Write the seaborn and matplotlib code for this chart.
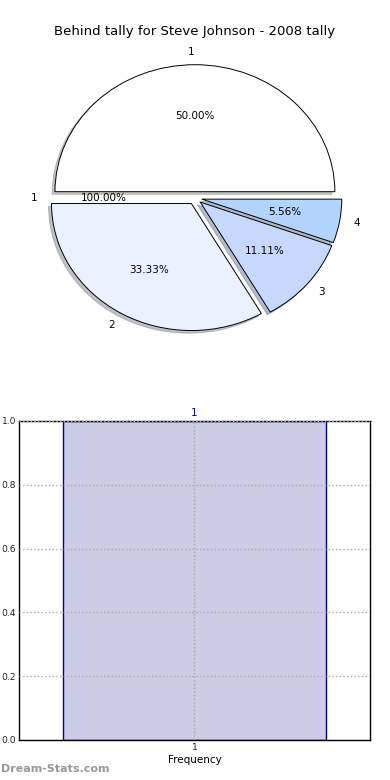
import numpy as np
import pandas as pd
import matplotlib
matplotlib.use("Agg")
import matplotlib.pyplot as plt
import seaborn as sns

# tally data
pie_labels = ["1", "2", "3", "4"]
pie_counts = [9, 6, 2, 1]
pie_colors = ["#ffffff", "#ebf1fe", "#c6d8fe", "#b3d4fe"]
phantom_label = "1"
phantom_pct = "100.00%"

bar_categories = ["1"]
bar_values = [1.0]
y_ticks = [0.0, 0.2, 0.4, 0.6, 0.8, 1.0]

sns.set_style("white")
plt.rcParams["font.family"] = ["DejaVu Sans"]
plt.rcParams["text.color"] = "black"
plt.rcParams["axes.labelcolor"] = "black"

fig = plt.figure(figsize=(3.9, 7.8), dpi=100)

# Plot 1: pie
ax1 = fig.add_axes([0.0513, 0.5426, 0.897, 0.407])
explode = [0.05] * len(pie_counts)
ax1.pie(pie_counts, labels=pie_labels, colors=pie_colors, explode=explode,
        autopct="%.2f%%", startangle=0,
        shadow={"ox": -0.015, "oy": -0.015, "shade": 0.45},
        wedgeprops={"edgecolor": "black", "linewidth": 0.7},
        textprops={"fontsize": 7.5, "color": "black"})
# empty wedge label left over from the source chart
ax1.text(-1.15, 0, phantom_label, ha="center", va="center", fontsize=7.5)
ax1.text(-0.65, 0, phantom_pct, ha="center", va="center", fontsize=7.5)
ax1.set_aspect("auto")
ax1.set_xlim(-1.25, 1.25)
ax1.set_ylim(-1.25, 1.25)
ax1.axis("off")
ax1.set_title("Behind tally for Steve Johnson - 2008 tally", fontsize=9.5,
              pad=3, color="black")

# Plot 2: frequency bar
ax2 = fig.add_axes([0.0487, 0.0513, 0.9, 0.409])
df = pd.DataFrame({"cat": bar_categories, "val": bar_values})
sns.barplot(data=df, x="cat", y="val", ax=ax2, color="#ccccE6",
            edgecolor="#00008b", linewidth=1.0, width=0.75, saturation=1)
ax2.set_xlim(-0.5, 0.5)
ax2.set_ylim(0, 1)
ax2.set_yticks(y_ticks)
ax2.set_yticklabels([f"{t:.1f}" for t in y_ticks])
ax2.set_axisbelow(False)
ax2.grid(True, linestyle=":", color="#aaaaaa", linewidth=1.0)
ax2.tick_params(labelsize=6.6, length=2, direction="in", colors="#222222",
                pad=2)
ax2.set_xlabel("Frequency", fontsize=7.5, labelpad=2)
ax2.set_ylabel("")
for s in ax2.spines.values():
    s.set_color("black")
    s.set_linewidth(1.0)
for i, c in enumerate(bar_categories):
    ax2.text(i, 1.01, c, transform=ax2.get_xaxis_transform(), ha="center",
             va="bottom", color="#00008b", fontsize=7.5)

fig.text(0.002, 0.008, "Dream-Stats.com", color="#999999", fontsize=8,
         fontweight="bold", ha="left", va="bottom")

fig.savefig("out.png", dpi=100)
